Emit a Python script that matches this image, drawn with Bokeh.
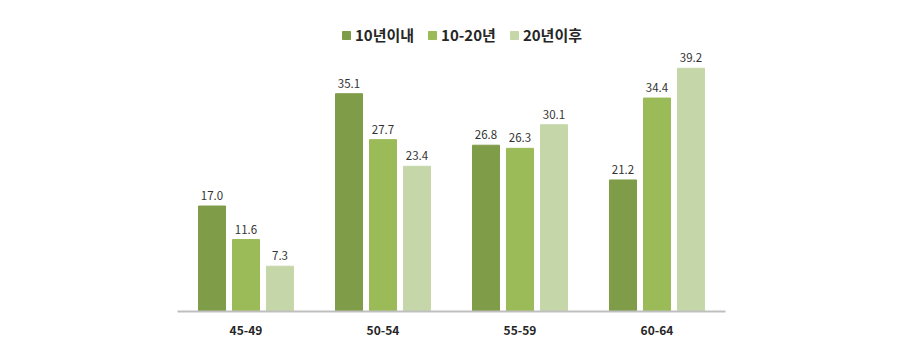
from bokeh.plotting import figure
from bokeh.models import ColumnDataSource, FactorRange, Legend, LegendItem
from bokeh.transform import dodge
from bokeh.core.properties import value
from bokeh.embed import file_html
from bokeh.resources import INLINE

categories = ["45-49", "50-54", "55-59", "60-64"]
series_names = ["10년이내", "10-20년", "20년이후"]
s1 = [17.0, 35.1, 26.8, 21.2]
s2 = [11.6, 27.7, 26.3, 34.4]
s3 = [7.3, 23.4, 30.1, 39.2]
colors = ["#7F9C48", "#9BBB59", "#C5D7A9"]

FONT = "Noto Sans CJK KR"

src = ColumnDataSource(dict(
    cat=categories, s1=s1, s2=s2, s3=s3,
    l1=[f"{v:.1f}" for v in s1], l2=[f"{v:.1f}" for v in s2], l3=[f"{v:.1f}" for v in s3],
))

p = figure(width=907, height=351, x_range=FactorRange(*categories), y_range=(0, 46.9),
           output_backend="svg", toolbar_location=None,
           min_border_left=177, min_border_right=182, min_border_top=20, min_border_bottom=40)
p.outline_line_color = None
p.xgrid.visible = False
p.ygrid.visible = False
p.yaxis.visible = False
p.background_fill_color = "white"
p.border_fill_color = "white"

offsets = [-0.248, 0.0, 0.248]
renderers = []
for i, (col, lab) in enumerate([("s1", "l1"), ("s2", "l2"), ("s3", "l3")]):
    r = p.vbar(x=dodge("cat", offsets[i], range=p.x_range), top=col, width=0.197,
               source=src, fill_color=colors[i], line_color=colors[i])
    renderers.append(r)
    p.text(x=dodge("cat", offsets[i], range=p.x_range), y=col, text=lab, source=src,
           text_align="center", text_baseline="bottom", y_offset=-6,
           text_font=value(FONT), text_font_size="11.5px", text_color="#333333")

ax = p.xaxis[0]
ax.axis_line_color = "#BFBFBF"
ax.axis_line_width = 2
ax.major_tick_line_color = None
ax.minor_tick_line_color = None
ax.major_label_text_font = FONT
ax.major_label_text_font_style = "bold"
ax.major_label_text_font_size = "12px"
ax.major_label_text_color = "#262626"
ax.major_label_standoff = 8

legend = Legend(items=[LegendItem(label=series_names[i], renderers=[renderers[i]]) for i in range(3)],
                orientation="horizontal", location=(164, 266),
                label_text_font=FONT, label_text_font_style="bold", label_text_font_size="15px",
                label_text_color="#262626", glyph_width=10, glyph_height=10, label_standoff=4,
                spacing=13, padding=0, margin=0, border_line_color=None, background_fill_alpha=0)
p.add_layout(legend, "center")

open("out.html", "w").write(file_html(p, INLINE))
